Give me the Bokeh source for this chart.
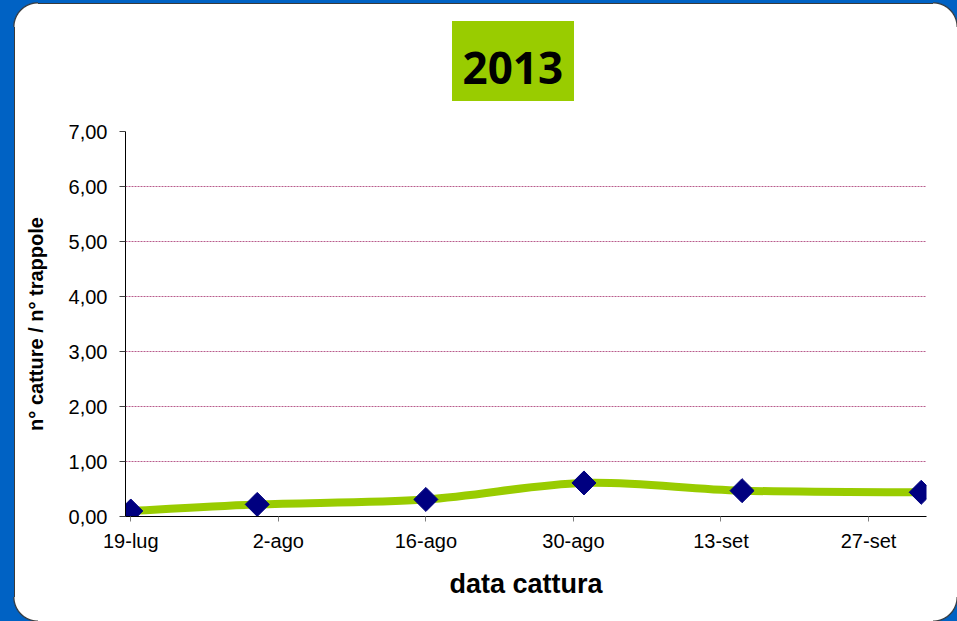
import math
import pandas as pd
from bokeh.plotting import figure
from bokeh.models import Range1d, FixedTicker, Title
from bokeh.embed import file_html
from bokeh.resources import INLINE

# ---- data ----
title_text = "2013"
capture_dates = ["2013-07-19", "2013-07-31", "2013-08-16", "2013-08-31", "2013-09-15", "2013-10-02"]
values = [0.10, 0.22, 0.31, 0.61, 0.47, 0.44]
tick_dates = ["2013-07-19", "2013-08-02", "2013-08-16", "2013-08-30", "2013-09-13", "2013-09-27"]
tick_labels = ["19-lug", "2-ago", "16-ago", "30-ago", "13-set", "27-set"]
axis_start = "2013-07-19"
axis_end = "2013-10-03"
y_ticks = [0, 1, 2, 3, 4, 5, 6, 7]
y_tick_labels = ["0,00", "1,00", "2,00", "3,00", "4,00", "5,00", "6,00", "7,00"]
grid_values = [1, 2, 3, 4, 5, 6]
x_title = "data cattura"
y_title = "n° catture / n° trappole"

origin = pd.Timestamp(axis_start)
def day_center(d):
    return (pd.Timestamp(d) - origin).days + 0.5

xs = [day_center(d) for d in capture_dates]
ys = values
tick_pos = [day_center(d) for d in tick_dates]
x_end = (pd.Timestamp(axis_end) - origin).days

FONT = "Liberation Sans"
BLUE = "#0062c4"
EDGE = "#3a3a3a"
GREEN = "#99cc00"

p = figure(width=957, height=621, output_backend="svg", toolbar_location=None,
           x_range=Range1d(0, x_end), y_range=Range1d(y_ticks[0], y_ticks[-1]),
           min_border_left=125, min_border_right=31, min_border_top=131, min_border_bottom=105,
           border_fill_alpha=0, background_fill_color="white")
p.outline_line_color = None

# slide-like backdrop: blue with a white rounded panel and the green title plate (CSS on the plot element)
corner = "radial-gradient(circle at {cx} {cy}, white 23px, " + EDGE + " 24px, " + BLUE + " 25.5px)"
p.styles = {
    "background": ", ".join([
        "linear-gradient(" + GREEN + ", " + GREEN + ") 452px 21px / 122px 80px no-repeat",
        corner.format(cx="38px", cy="27px") + " 0px 0px / 38px 27px no-repeat",
        corner.format(cx="0px", cy="27px") + " 933px 0px / 24px 27px no-repeat",
        corner.format(cx="38px", cy="0px") + " 0px 597px / 38px 24px no-repeat",
        corner.format(cx="0px", cy="0px") + " 933px 597px / 24px 24px no-repeat",
        "linear-gradient(to right, " + BLUE + " 14px, " + EDGE + " 14px, " + EDGE + " 15px, transparent 15px) 0px 0px / 100% 100% no-repeat",
        "linear-gradient(to bottom, " + BLUE + " 3px, " + EDGE + " 3px, " + EDGE + " 4px, white 4px)",
    ])
}

# grid
p.xgrid.visible = False
p.ygrid.ticker = FixedTicker(ticks=grid_values)
p.ygrid.grid_line_color = "#b85c8c"
p.ygrid.grid_line_dash = "2 1"
p.ygrid.grid_line_width = 1

# axes
p.yaxis.ticker = FixedTicker(ticks=y_ticks)
p.yaxis.major_label_overrides = {t: l for t, l in zip(y_ticks, y_tick_labels)}
p.yaxis.minor_tick_line_color = None
p.yaxis.major_tick_in = 0
p.yaxis.major_tick_out = 6
p.yaxis.major_tick_line_color = "#404040"
p.yaxis.axis_line_color = "black"
p.yaxis.major_label_standoff = 12
p.yaxis.major_label_text_font = FONT
p.yaxis.major_label_text_font_size = "20px"
p.yaxis.major_label_text_color = "black"
p.yaxis.axis_label = y_title
p.yaxis.axis_label_text_font = FONT
p.yaxis.axis_label_text_font_style = "bold"
p.yaxis.axis_label_text_font_size = "20px"
p.yaxis.axis_label_text_color = "black"
p.yaxis.axis_label_standoff = 19

p.xaxis.ticker = FixedTicker(ticks=tick_pos)
p.xaxis.major_label_overrides = {t: l for t, l in zip(tick_pos, tick_labels)}
p.xaxis.minor_tick_line_color = None
p.xaxis.major_tick_in = 0
p.xaxis.major_tick_out = 5
p.xaxis.major_tick_line_color = "#808080"
p.xaxis.axis_line_color = "black"
p.xaxis.major_label_standoff = 8
p.xaxis.major_label_text_font = FONT
p.xaxis.major_label_text_font_size = "20px"
p.xaxis.major_label_text_color = "black"
p.xaxis.axis_label = x_title
p.xaxis.axis_label_text_font = FONT
p.xaxis.axis_label_text_font_style = "bold"
p.xaxis.axis_label_text_font_size = "27px"
p.xaxis.axis_label_text_color = "black"
p.xaxis.axis_label_standoff = 14

# smoothed line (Catmull-Rom converted to cubic Bezier segments)
n = len(xs)
x0, y0, x1, y1, cx0, cy0, cx1, cy1 = [], [], [], [], [], [], [], []
for i in range(n - 1):
    pxm, pym = (xs[i - 1], ys[i - 1]) if i > 0 else (xs[i], ys[i])
    pxp, pyp = (xs[i + 2], ys[i + 2]) if i + 2 < n else (xs[i + 1], ys[i + 1])
    x0.append(xs[i]); y0.append(ys[i]); x1.append(xs[i + 1]); y1.append(ys[i + 1])
    cx0.append(xs[i] + (xs[i + 1] - pxm) / 6.0)
    cy0.append(ys[i] + (ys[i + 1] - pym) / 6.0)
    cx1.append(xs[i + 1] - (pxp - xs[i]) / 6.0)
    cy1.append(ys[i + 1] - (pyp - ys[i]) / 6.0)
p.bezier(x0=x0, y0=y0, x1=x1, y1=y1, cx0=cx0, cy0=cy0, cx1=cx1, cy1=cy1,
         line_color=GREEN, line_width=8, line_cap="round")

p.scatter(xs, ys, marker="square", size=17, angle=math.pi / 4,
          fill_color="#000080", line_color="#000080")

# title text (sits on the green plate)
title = Title(text=title_text, align="left", text_font="Open Sans", text_font_style="bold",
              text_font_size="44px", text_color="black", standoff=96, offset=337)
p.add_layout(title, "above")

open("out.html", "w").write(file_html(p, INLINE))
